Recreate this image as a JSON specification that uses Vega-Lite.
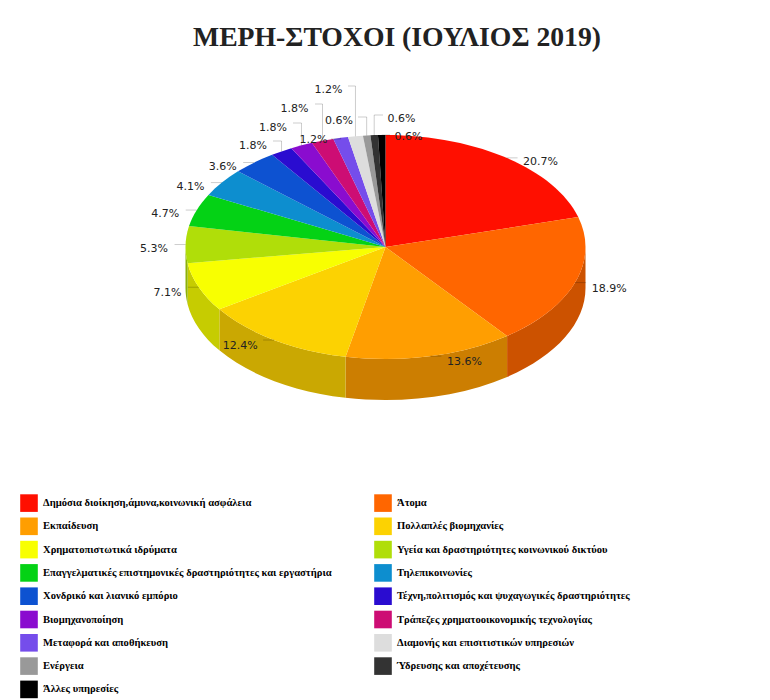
{
"$schema":"https://vega.github.io/schema/vega-lite/v6.json",
"width":770,"height":640,
"padding":{"top":60,"left":0,"right":0,"bottom":0},
"autosize":{"type":"none"},
"background":"white",
"view":{"stroke":null},
"title":{"text":"ΜΕΡΗ-ΣΤΟΧΟΙ (ΙΟΥΛΙΟΣ 2019)","font":"Liberation Serif","fontWeight":"bold","fontSize":27.7,"color":"#222222","anchor":"middle","frame":"group","dx":12,"offset":12,"dy":32,"baseline":"bottom"},
"data":{"values":[
{"sector":"Δημόσια διοίκηση,άμυνα,κοινωνική ασφάλεια","value":20.7},
{"sector":"Άτομα","value":18.9},
{"sector":"Εκπαίδευση","value":13.6},
{"sector":"Πολλαπλές βιομηχανίες","value":12.4},
{"sector":"Χρηματοπιστωτικά ιδρύματα","value":7.1},
{"sector":"Υγεία και δραστηριότητες κοινωνικού δικτύου","value":5.3},
{"sector":"Επαγγελματικές επιστημονικές δραστηριότητες και εργαστήρια","value":4.7},
{"sector":"Τηλεπικοινωνίες","value":4.1},
{"sector":"Χονδρικό και λιανικό εμπόριο","value":3.6},
{"sector":"Τέχνη,πολιτισμός και ψυχαγωγικές δραστηριότητες","value":1.8},
{"sector":"Βιομηχανοποίηση","value":1.8},
{"sector":"Τράπεζες χρηματοοικονομικής τεχνολογίας","value":1.8},
{"sector":"Μεταφορά και αποθήκευση","value":1.2},
{"sector":"Διαμονής και επισιτιστικών υπηρεσιών","value":1.2},
{"sector":"Ενέργεια","value":0.6},
{"sector":"Ύδρευσης και αποχέτευσης","value":0.6},
{"sector":"Άλλες υπηρεσίες","value":0.6}
]},
"transform":[
{"window":[{"op":"sum","field":"value","as":"cum"},{"op":"row_number","as":"rn"}],"frame":[null,0],"ignorePeers":true},
{"calculate":"2*PI*(datum.cum-datum.value)/100","as":"a0"},
{"calculate":"2*PI*datum.cum/100","as":"a1"},
{"calculate":"(datum.a0+datum.a1)/2","as":"am"},
{"calculate":"0","as":"cx"},
{"calculate":"0","as":"cy"},
{"calculate":"'M0,0L'+round(20000*sin(datum.a0))/100+','+round(-11200*cos(datum.a0))/100+'A200,112 0 0 1 '+round(20000*sin(datum.a1))/100+','+round(-11200*cos(datum.a1))/100+'Z'","as":"topPath"},
{"calculate":"max(datum.a0,PI/2)","as":"w0"},
{"calculate":"min(datum.a1,3*PI/2)","as":"w1"},
{"calculate":"'M'+round(20000*sin(datum.w0))/100+','+round(-11200*cos(datum.w0))/100+'A200,112 0 0 1 '+round(20000*sin(datum.w1))/100+','+round(-11200*cos(datum.w1))/100+'L'+round(20000*sin(datum.w1))/100+','+round(4100-11200*cos(datum.w1))/100+'A200,112 0 0 0 '+round(20000*sin(datum.w0))/100+','+round(4100-11200*cos(datum.w0))/100+'Z'","as":"wallPath"},
{"calculate":"200*sin(datum.am)","as":"rimX"},
{"calculate":"112*cos(datum.am)","as":"rimY"},
{"calculate":"datum.rimX>=0?1:-1","as":"side"},
{"calculate":"datum.value>=10?36:31","as":"tw"},
{"calculate":"datum.rn>=10?247-[141,123,104,139,86,117,115,135][datum.rn-10]:datum.rimY","as":"elbowY"},
{"calculate":"datum.rn>=10?[273,293,315,331,348,358,383,390][datum.rn-10]-385.5:datum.rimX+datum.side*11","as":"elbowX"},
{"calculate":"datum.rn>=10?[253,273,294.5,313.5,328.5,339,401.5,408.5][datum.rn-10]-385.5:datum.rimX+datum.side*(16+datum.tw/2)","as":"labelX"},
{"calculate":"datum.rn>=10?246-[145,127,108,139,89,120,118,136][datum.rn-10]:datum.rimY-(datum.rimY<-20?6:4)","as":"labelY"},
{"calculate":"format(datum.value,'.1f')+'%'","as":"label"}
],
"layer":[
{"transform":[{"filter":"datum.a1>PI/2 && datum.a0<3*PI/2"}],
 "mark":{"type":"point","filled":true,"opacity":1,"size":4,"strokeWidth":0},
 "encoding":{
  "x":{"field":"cx","type":"quantitative","axis":null,"scale":{"domain":[-385.5,384.5],"nice":false,"zero":false}},
  "y":{"field":"cy","type":"quantitative","axis":null,"scale":{"domain":[-453,187],"nice":false,"zero":false}},
  "shape":{"field":"wallPath","type":"nominal","scale":null,"legend":null},
  "fill":{"field":"sector","type":"nominal","legend":null,"scale":{"domain":["Άτομα","Εκπαίδευση","Πολλαπλές βιομηχανίες","Χρηματοπιστωτικά ιδρύματα","Υγεία και δραστηριότητες κοινωνικού δικτύου"],"range":["#CC5200","#CC7E01","#CAA802","#C6CC01","#8DB207"]}}
 }},
{"mark":{"type":"point","filled":true,"opacity":1,"size":4,"strokeWidth":0},
 "encoding":{
  "x":{"field":"cx","type":"quantitative","axis":null,"scale":{"domain":[-385.5,384.5],"nice":false,"zero":false}},
  "y":{"field":"cy","type":"quantitative","axis":null,"scale":{"domain":[-453,187],"nice":false,"zero":false}},
  "shape":{"field":"topPath","type":"nominal","scale":null,"legend":null},
  "color":{"field":"sector","type":"nominal","scale":{
   "domain":["Δημόσια διοίκηση,άμυνα,κοινωνική ασφάλεια","Άτομα","Εκπαίδευση","Πολλαπλές βιομηχανίες","Χρηματοπιστωτικά ιδρύματα","Υγεία και δραστηριότητες κοινωνικού δικτύου","Επαγγελματικές επιστημονικές δραστηριότητες και εργαστήρια","Τηλεπικοινωνίες","Χονδρικό και λιανικό εμπόριο","Τέχνη,πολιτισμός και ψυχαγωγικές δραστηριότητες","Βιομηχανοποίηση","Τράπεζες χρηματοοικονομικής τεχνολογίας","Μεταφορά και αποθήκευση","Διαμονής και επισιτιστικών υπηρεσιών","Ενέργεια","Ύδρευσης και αποχέτευσης","Άλλες υπηρεσίες"],
   "range":["#FF0F00","#FF6600","#FF9E01","#FCD202","#F8FF01","#B0DE09","#04D215","#0D8ECF","#0D52D1","#2A0CD0","#8A0CCF","#CD0D74","#754DEB","#DDDDDD","#999999","#333333","#000000"]},
   "legend":{"title":null,"orient":"none","legendX":20,"legendY":434,"direction":"horizontal","columns":2,"symbolType":"square","symbolSize":310,"symbolStrokeWidth":0,"symbolOpacity":1,"labelFont":"Liberation Serif","labelFontWeight":"bold","labelFontSize":10.6,"labelColor":"#000000","labelOffset":5,"labelLimit":400,"rowPadding":5.3,"columnPadding":42,"padding":0}}
 }},
{"mark":{"type":"rule","color":"#000000","opacity":0.2,"strokeWidth":1},
 "encoding":{
  "x":{"field":"rimX","type":"quantitative","axis":null,"scale":{"domain":[-385.5,384.5],"nice":false,"zero":false}},
  "x2":{"field":"elbowX"},
  "y":{"field":"elbowY","type":"quantitative","axis":null,"scale":{"domain":[-453,187],"nice":false,"zero":false}}
 }},
{"transform":[{"filter":"datum.rn>=10"}],
 "mark":{"type":"rule","color":"#000000","opacity":0.2,"strokeWidth":1},
 "encoding":{
  "x":{"field":"rimX","type":"quantitative","axis":null,"scale":{"domain":[-385.5,384.5],"nice":false,"zero":false}},
  "y":{"field":"rimY","type":"quantitative","axis":null,"scale":{"domain":[-453,187],"nice":false,"zero":false}},
  "y2":{"field":"elbowY"}
 }},
{"mark":{"type":"text","font":"DejaVu Sans","fontSize":11,"color":"#222222","align":"center","baseline":"middle"},
 "encoding":{
  "x":{"field":"labelX","type":"quantitative","axis":null,"scale":{"domain":[-385.5,384.5],"nice":false,"zero":false}},
  "y":{"field":"labelY","type":"quantitative","axis":null,"scale":{"domain":[-453,187],"nice":false,"zero":false}},
  "text":{"field":"label","type":"nominal"}
 }}
]
}
